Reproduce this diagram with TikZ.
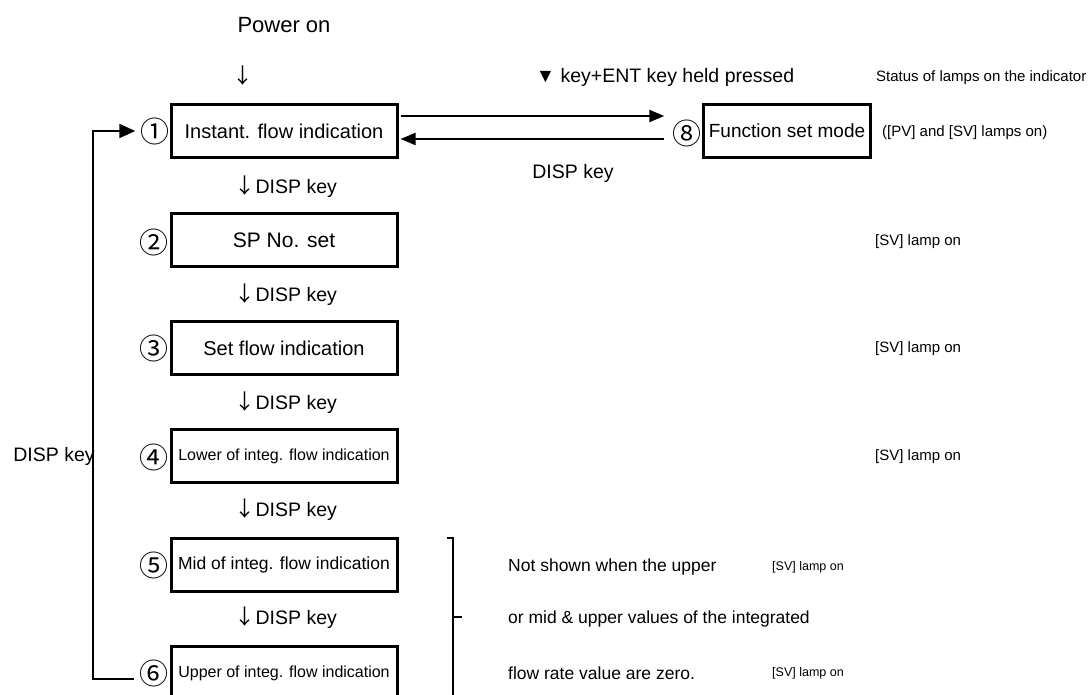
\documentclass[tikz,border=0pt]{standalone}
\usepackage{fontspec}
\setmainfont{Liberation Sans}
\newfontfamily\cjk{Noto Sans CJK JP}
\usetikzlibrary{arrows.meta}
\newcommand\fsz[1]{\fontsize{#1}{#1}\selectfont}
\newcommand\darr{{\cjk\fsz{21}\makebox[11pt]{↓}}}
\begin{document}
\begin{tikzpicture}[x=1pt,y=-1pt,
  stepbox/.style={draw, line width=3pt, minimum width=226pt, minimum height=53pt, inner sep=0pt},
  num/.style={font=\cjk\fsz{29}, inner sep=0pt},
  lbl/.style={inner sep=0pt, font=\fsz{19.5}},
  lamp/.style={inner sep=0pt, font=\fsz{15}, anchor=west},
  note/.style={inner sep=0pt, font=\fsz{17.5}, anchor=west},
  conn/.style={line width=2pt},
  tip/.style={-{Triangle[length=15pt,width=12pt]}},
  tipb/.style={-{Triangle[length=16pt,width=14pt]}}]
\path[use as bounding box] (0,0) rectangle (1092,695);
\clip (0,0) rectangle (1092,695);

% boxes
\node[stepbox, font=\fsz{20}] (b1) at (284,131) {Instant. flow indication};
\node[stepbox, font=\fsz{21}] (b2) at (284,240) {SP No. set};
\node[stepbox, font=\fsz{20}] (b3) at (284,348) {Set flow indication};
\node[stepbox, font=\fsz{16}] (b4) at (284,456) {Lower of integ. flow indication};
\node[stepbox, font=\fsz{17.5}] (b5) at (284,565) {Mid of integ. flow indication};
\node[stepbox, font=\fsz{16}] (b6) at (284,673) {Upper of integ. flow indication};
\node[stepbox, font=\fsz{19}, minimum width=167pt] (b8) at (787,131) {Function set mode};

% circled numbers
\node[num] (n1) at (155,131) {①};
\node[num] (n2) at (154,242) {②};
\node[num] (n3) at (154,348) {③};
\node[num] (n4) at (154,457) {④};
\node[num] (n5) at (154,565) {⑤};
\node[num] (n6) at (154,673) {⑥};
\node[num] (n8) at (687,133) {⑧};

% labels
\node[lbl, font=\fsz{22}] (power) at (284,25) {Power on};
\node[inner sep=0pt] (dn0) at (243,76) {\darr};
\node[lbl, anchor=west] (k12) at (239,187) {\darr\ DISP key};
\node[lbl, anchor=west] (k23) at (239,295) {\darr\ DISP key};
\node[lbl, anchor=west] (k34) at (239,403) {\darr\ DISP key};
\node[lbl, anchor=west] (k45) at (239,510) {\darr\ DISP key};
\node[lbl, anchor=west] (k56) at (239,618) {\darr\ DISP key};
\node[lbl] (keyent) at (665,77) {▼ key+ENT key held pressed};
\node[lbl] (kback) at (573,173) {DISP key};
\node[lbl] (kloop) at (54,456) {DISP key};

\node[lamp] (status) at (876,78) {Status of lamps on the indicator};
\node[lamp] (l8) at (882,133) {([PV] and [SV] lamps on)};
\node[lamp] (l2) at (875,242) {[SV] lamp on};
\node[lamp] (l3) at (875,349) {[SV] lamp on};
\node[lamp] (l4) at (875,457) {[SV] lamp on};
\node[lamp, font=\fsz{12.5}] (l5) at (772,567) {[SV] lamp on};
\node[lamp, font=\fsz{12.5}] (l6) at (772,673) {[SV] lamp on};

\node[note] (t1) at (508,567) {Not shown when the upper};
\node[note] (t2) at (508,619) {or mid \& upper values of the integrated};
\node[note] (t3) at (508,673) {flow rate value are zero.};

% connectors
\draw[conn,tip,shorten <=2pt,shorten >=8pt] ([yshift=15pt]b1.east) -- ([yshift=15pt]b1.east -| n8.west);
\draw[conn,tip,shorten <=8pt,shorten >=2pt] ([yshift=-8pt]b1.east -| n8.west) -- ([yshift=-8pt]b1.east);
\draw[conn,tipb,shorten <=5pt,shorten >=5pt] ([yshift=-6pt]n6.west) -- ++(-46,0) |- (n1.west);

% bracket
\coordinate (bt) at (453,538);
\coordinate (bm) at (453,617);
\draw[conn] ([xshift=-6pt]bt) -- (bt) -- (453,700);
\draw[conn] (bm) -- ++(9,0);
\end{tikzpicture}
\end{document}
